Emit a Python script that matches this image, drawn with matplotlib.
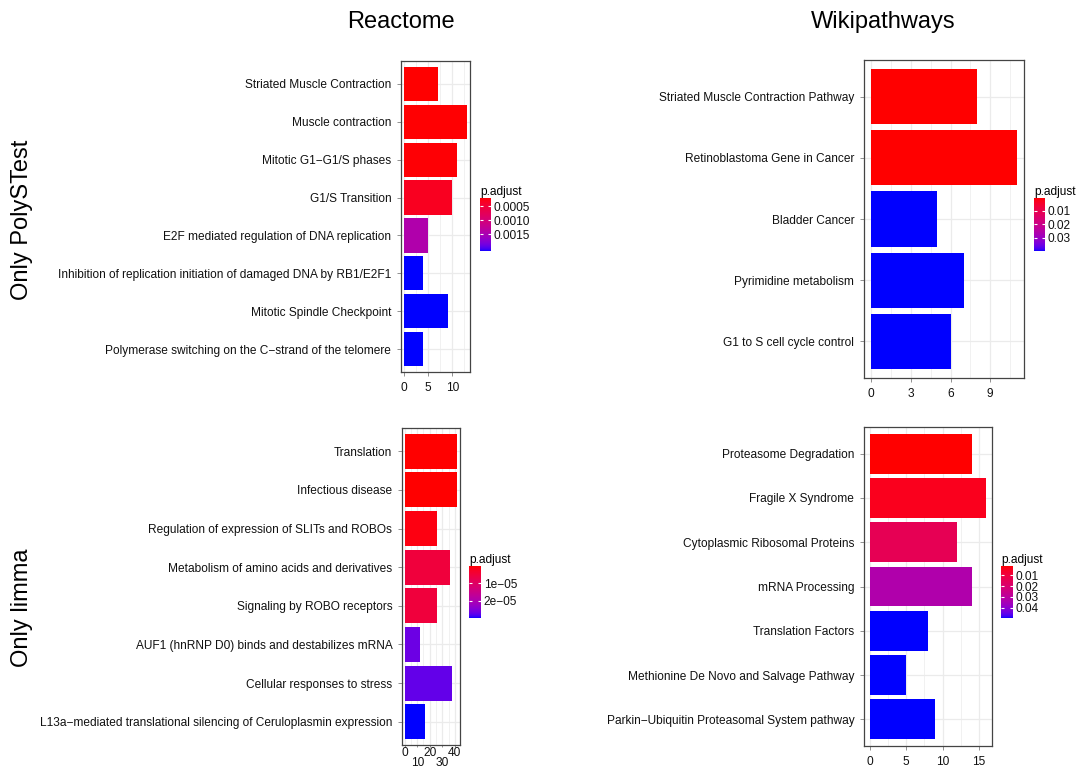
import numpy as np
import matplotlib
matplotlib.use("Agg")
import matplotlib.pyplot as plt
from matplotlib.colors import ListedColormap, Normalize
from matplotlib.ticker import MultipleLocator

plt.rcParams['font.family'] = ['Liberation Sans', 'DejaVu Sans']

# Reactome, only PolySTest
react_poly_terms = ["Striated Muscle Contraction", "Muscle contraction",
                    "Mitotic G1\u2212G1/S phases", "G1/S Transition",
                    "E2F mediated regulation of DNA replication",
                    "Inhibition of replication initiation of damaged DNA by RB1/E2F1",
                    "Mitotic Spindle Checkpoint",
                    "Polymerase switching on the C\u2212strand of the telomere"]
react_poly_count = [7, 13, 11, 10, 5, 4, 9, 4]
react_poly_padj = [0.00021, 0.00022, 0.00023, 0.00034, 0.00144, 0.0021, 0.0021, 0.0021]

# Wikipathways, only PolySTest
wiki_poly_terms = ["Striated Muscle Contraction Pathway", "Retinoblastoma Gene in Cancer",
                   "Bladder Cancer", "Pyrimidine metabolism", "G1 to S cell cycle control"]
wiki_poly_count = [8, 11, 5, 7, 6]
wiki_poly_padj = [0.0005, 0.0006, 0.0399, 0.0399, 0.0399]

# Reactome, only limma
react_limma_terms = ["Translation", "Infectious disease",
                     "Regulation of expression of SLITs and ROBOs",
                     "Metabolism of amino acids and derivatives",
                     "Signaling by ROBO receptors",
                     "AUF1 (hnRNP D0) binds and destabilizes mRNA",
                     "Cellular responses to stress",
                     "L13a\u2212mediated translational silencing of Ceruloplasmin expression"]
react_limma_count = [42, 42, 26, 36, 26, 12, 38, 16]
react_limma_padj = [3.5e-7, 4.0e-7, 1.25e-6, 5.4e-6, 5.4e-6, 2.65e-5, 2.71e-5, 2.98e-5]

# Wikipathways, only limma
wiki_limma_terms = ["Proteasome Degradation", "Fragile X Syndrome",
                    "Cytoplasmic Ribosomal Proteins", "mRNA Processing",
                    "Translation Factors", "Methionine De Novo and Salvage Pathway",
                    "Parkin\u2212Ubiquitin Proteasomal System pathway"]
wiki_limma_count = [14, 16, 12, 14, 8, 5, 9]
wiki_limma_padj = [0.0012, 0.0041, 0.0144, 0.0329, 0.0498, 0.0498, 0.0498]


# red -> blue gradient interpolated in CIE Lab
WHITE = np.array([0.95047, 1.0, 1.08883])


def srgb_to_lab(rgb):
    c = np.asarray(rgb, float)
    lin = np.where(c <= 0.04045, c / 12.92, ((c + 0.055) / 1.055) ** 2.4)
    M = np.array([[0.4124, 0.3576, 0.1805],
                  [0.2126, 0.7152, 0.0722],
                  [0.0193, 0.1192, 0.9505]])
    xyz = M @ lin / WHITE
    f = np.where(xyz > 0.008856, np.cbrt(xyz), 7.787 * xyz + 16 / 116)
    return np.array([116 * f[1] - 16, 500 * (f[0] - f[1]), 200 * (f[1] - f[2])])


def lab_to_srgb(lab):
    L, a, b = lab
    fy = (L + 16) / 116
    f = np.array([fy + a / 500, fy, fy - b / 200])
    xyz = np.where(f ** 3 > 0.008856, f ** 3, (f - 16 / 116) / 7.787) * WHITE
    Minv = np.array([[3.2406, -1.5372, -0.4986],
                     [-0.9689, 1.8758, 0.0415],
                     [0.0557, -0.2040, 1.0570]])
    lin = np.clip(Minv @ xyz, 0, 1)
    c = np.where(lin <= 0.0031308, 12.92 * lin, 1.055 * lin ** (1 / 2.4) - 0.055)
    return np.clip(c, 0, 1)


lo, hi = srgb_to_lab([1, 0, 0]), srgb_to_lab([0, 0, 1])
grad = [lab_to_srgb(lo + t * (hi - lo)) for t in np.linspace(0, 1, 256)]
grad[0], grad[-1] = (1, 0, 0), (0, 0, 1)
cmap = ListedColormap(grad)

W, H = 1076, 769
fig = plt.figure(figsize=(W / 100, H / 100), dpi=100)


def px(l, t, r, b):
    return [l / W, 1 - b / H, (r - l) / W, (b - t) / H]


def draw_panel(rect, cbrect, terms, counts, padj, xticks, cb_ticks, cb_labels, dodge=False):
    ax = fig.add_axes(px(*rect))
    n = len(terms)
    ypos = np.arange(n)[::-1]
    norm = Normalize(min(padj), max(padj))
    ax.barh(ypos, counts, height=0.9, color=cmap(norm(np.array(padj))), zorder=2)
    top = max(counts)
    ax.set_xlim(-0.05 * top, 1.05 * top)
    ax.set_ylim(-0.6, n - 0.4)
    ax.set_yticks(ypos, terms)
    ax.set_xticks(xticks, [str(v) for v in xticks])
    ax.xaxis.set_minor_locator(MultipleLocator((xticks[1] - xticks[0]) / 2))
    ax.grid(True, which='major', color='#EBEBEB', lw=0.9, zorder=0)
    ax.grid(True, which='minor', axis='x', color='#EBEBEB', lw=0.5, zorder=0)
    ax.set_axisbelow(True)
    ax.tick_params(which='major', length=3, width=0.5, color='#666666',
                   labelsize=8.6, pad=4, labelcolor='#111111')
    ax.tick_params(which='minor', length=0)
    for s in ax.spines.values():
        s.set_color('#444444')
        s.set_linewidth(0.9)
    if dodge:
        # alternate x labels on two rows so they do not collide
        ax.tick_params(axis='x', length=1.5, pad=0.3)
        for i, t in enumerate(ax.xaxis.get_major_ticks()):
            if i % 2 == 1:
                t.set_pad(7.3)

    cax = fig.add_axes(px(*cbrect))
    sm = plt.cm.ScalarMappable(norm=norm, cmap=cmap)
    cb = fig.colorbar(sm, cax=cax)
    cb.outline.set_visible(False)
    cb.set_ticks(cb_ticks, labels=cb_labels)
    cax.invert_yaxis()
    cax.tick_params(direction='in', color='white', length=2.5, width=0.8,
                    left=True, right=True, labelsize=8.6, pad=2, labelcolor='#111111')
    cax.set_title('p.adjust', loc='left', fontsize=8.6, pad=2)
    return ax


draw_panel((401, 61, 470, 372), (480, 198, 491, 251),
           react_poly_terms, react_poly_count, react_poly_padj, [0, 5, 10],
           [0.0005, 0.0010, 0.0015], ["0.0005", "0.0010", "0.0015"])
draw_panel((864, 60, 1024, 378), (1034, 198, 1045, 251),
           wiki_poly_terms, wiki_poly_count, wiki_poly_padj, [0, 3, 6, 9],
           [0.01, 0.02, 0.03], ["0.01", "0.02", "0.03"])
draw_panel((402, 428, 460, 745), (469, 566, 481, 618),
           react_limma_terms, react_limma_count, react_limma_padj, [0, 10, 20, 30, 40],
           [1e-05, 2e-05], ["1e\u221205", "2e\u221205"], dodge=True)
draw_panel((864, 427, 992, 746), (1001, 566, 1013, 618),
           wiki_limma_terms, wiki_limma_count, wiki_limma_padj, [0, 5, 10, 15],
           [0.01, 0.02, 0.03, 0.04], ["0.01", "0.02", "0.03", "0.04"])

fig.text(401 / W, 1 - 22 / H, "Reactome", ha='center', va='center', fontsize=17)
fig.text(883 / W, 1 - 22 / H, "Wikipathways", ha='center', va='center', fontsize=17)
fig.text(22 / W, 1 - 220 / H, "Only PolySTest", ha='center', va='center',
         rotation=90, fontsize=17)
fig.text(22 / W, 1 - 608 / H, "Only limma", ha='center', va='center',
         rotation=90, fontsize=17)

fig.savefig("out.png", dpi=100)
